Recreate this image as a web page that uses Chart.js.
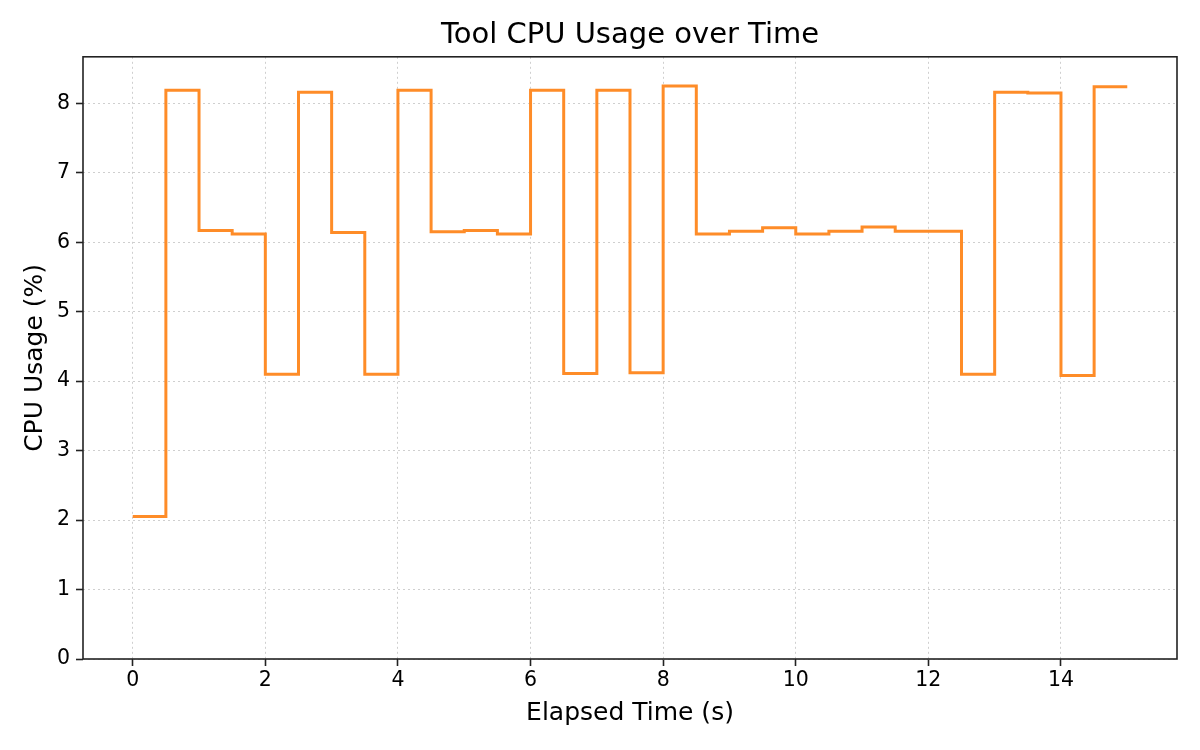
<!DOCTYPE html>
<html>
<head>
<meta charset="utf-8">
<script src="https://cdn.jsdelivr.net/npm/chart.js@4"></script>
<style>
  body { margin: 0; background: #fff; }
  #wrap { width: 1200px; height: 750px; }
</style>
</head>
<body>
<div id="wrap"><canvas id="graficaCpu"></canvas></div>
<script>
// tiempos (s) y uso de CPU (%)
var tiempos = [0, 0.5, 1, 1.5, 2, 2.5, 3, 3.5, 4, 4.5, 5, 5.5, 6, 6.5, 7, 7.5,
               8, 8.5, 9, 9.5, 10, 10.5, 11, 11.5, 12, 12.5, 13, 13.5, 14, 14.5, 15];
var usoCpu = [2.05, 8.19, 6.17, 6.12, 4.10, 8.16, 6.14, 4.10, 8.19, 6.15, 6.17, 6.12, 8.19, 4.11, 8.19, 4.12,
              8.25, 6.12, 6.16, 6.21, 6.12, 6.16, 6.22, 6.16, 6.16, 4.10, 8.16, 8.15, 4.08, 8.24, 8.24];
var ticksX = [0, 2, 4, 6, 8, 10, 12, 14];
var ticksY = [0, 1, 2, 3, 4, 5, 6, 7, 8];

var fuente = "'DejaVu Sans', sans-serif";

var marco = {
    id: 'marco',
    afterDraw: function(chart) {
        var a = chart.chartArea;
        var ctx = chart.ctx;
        ctx.save();
        ctx.strokeStyle = '#222';
        ctx.lineWidth = 1.6;
        ctx.strokeRect(a.left, a.top, a.right - a.left, a.bottom - a.top);
        ctx.restore();
    }
};

document.addEventListener("DOMContentLoaded", function() {
    var ctx = document.getElementById("graficaCpu").getContext("2d");
    var graficaCpu = new Chart(ctx, {
        type: "scatter",
        data: {
            datasets: [{
                label: 'CPU',
                data: tiempos.map(function(t, i) { return {x: t, y: usoCpu[i]}; }),
                showLine: true,
                stepped: 'before',
                borderColor: '#fe8c28',
                backgroundColor: '#fe8c28',
                borderWidth: 3,
                pointRadius: 0,
                fill: false
            }]
        },
        options: {
            responsive: true,
            maintainAspectRatio: false,
            animation: false,
            layout: { padding: { top: 0, right: 23, left: 0, bottom: 0 } },
            plugins: {
                legend: { display: false },
                tooltip: { enabled: false },
                title: {
                    display: true,
                    fullSize: false,
                    text: 'Tool CPU Usage over Time',
                    color: '#000',
                    font: { family: fuente, size: 29, weight: 'normal' },
                    padding: { top: 18, bottom: 4 }
                }
            },
            scales: {
                x: {
                    type: 'linear',
                    min: -0.75,
                    max: 15.75,
                    afterBuildTicks: function(scale) {
                        scale.ticks = ticksX.map(function(v) { return {value: v}; });
                    },
                    afterFit: function(scale) { scale.height = 91; },
                    ticks: {
                        color: '#000',
                        font: { family: fuente, size: 20.5 },
                        padding: 2,
                        maxRotation: 0,
                        autoSkip: false
                    },
                    grid: {
                        color: '#cfcfcf',
                        lineWidth: 1,
                        tickColor: '#222',
                        tickLength: 7,
                        tickWidth: 1.6,
                        tickBorderDash: []
                    },
                    border: { display: false, dash: [2, 3] },
                    title: {
                        display: true,
                        text: 'Elapsed Time (s)',
                        color: '#000',
                        font: { family: fuente, size: 25 },
                        padding: { top: 0, bottom: 22 }
                    }
                },
                y: {
                    min: 0,
                    max: 8.67,
                    afterBuildTicks: function(scale) {
                        scale.ticks = ticksY.map(function(v) { return {value: v}; });
                    },
                    afterFit: function(scale) { scale.width = 83; },
                    ticks: {
                        color: '#000',
                        font: { family: fuente, size: 20.5 },
                        padding: 6
                    },
                    grid: {
                        color: '#cfcfcf',
                        lineWidth: 1,
                        tickColor: '#222',
                        tickLength: 7,
                        tickWidth: 1.6,
                        tickBorderDash: []
                    },
                    border: { display: false, dash: [2, 3] },
                    title: {
                        display: true,
                        text: 'CPU Usage (%)',
                        color: '#000',
                        font: { family: fuente, size: 25 },
                        padding: { top: 20, bottom: 0 }
                    }
                }
            }
        },
        plugins: [marco]
    });
});
</script>
</body>
</html>
